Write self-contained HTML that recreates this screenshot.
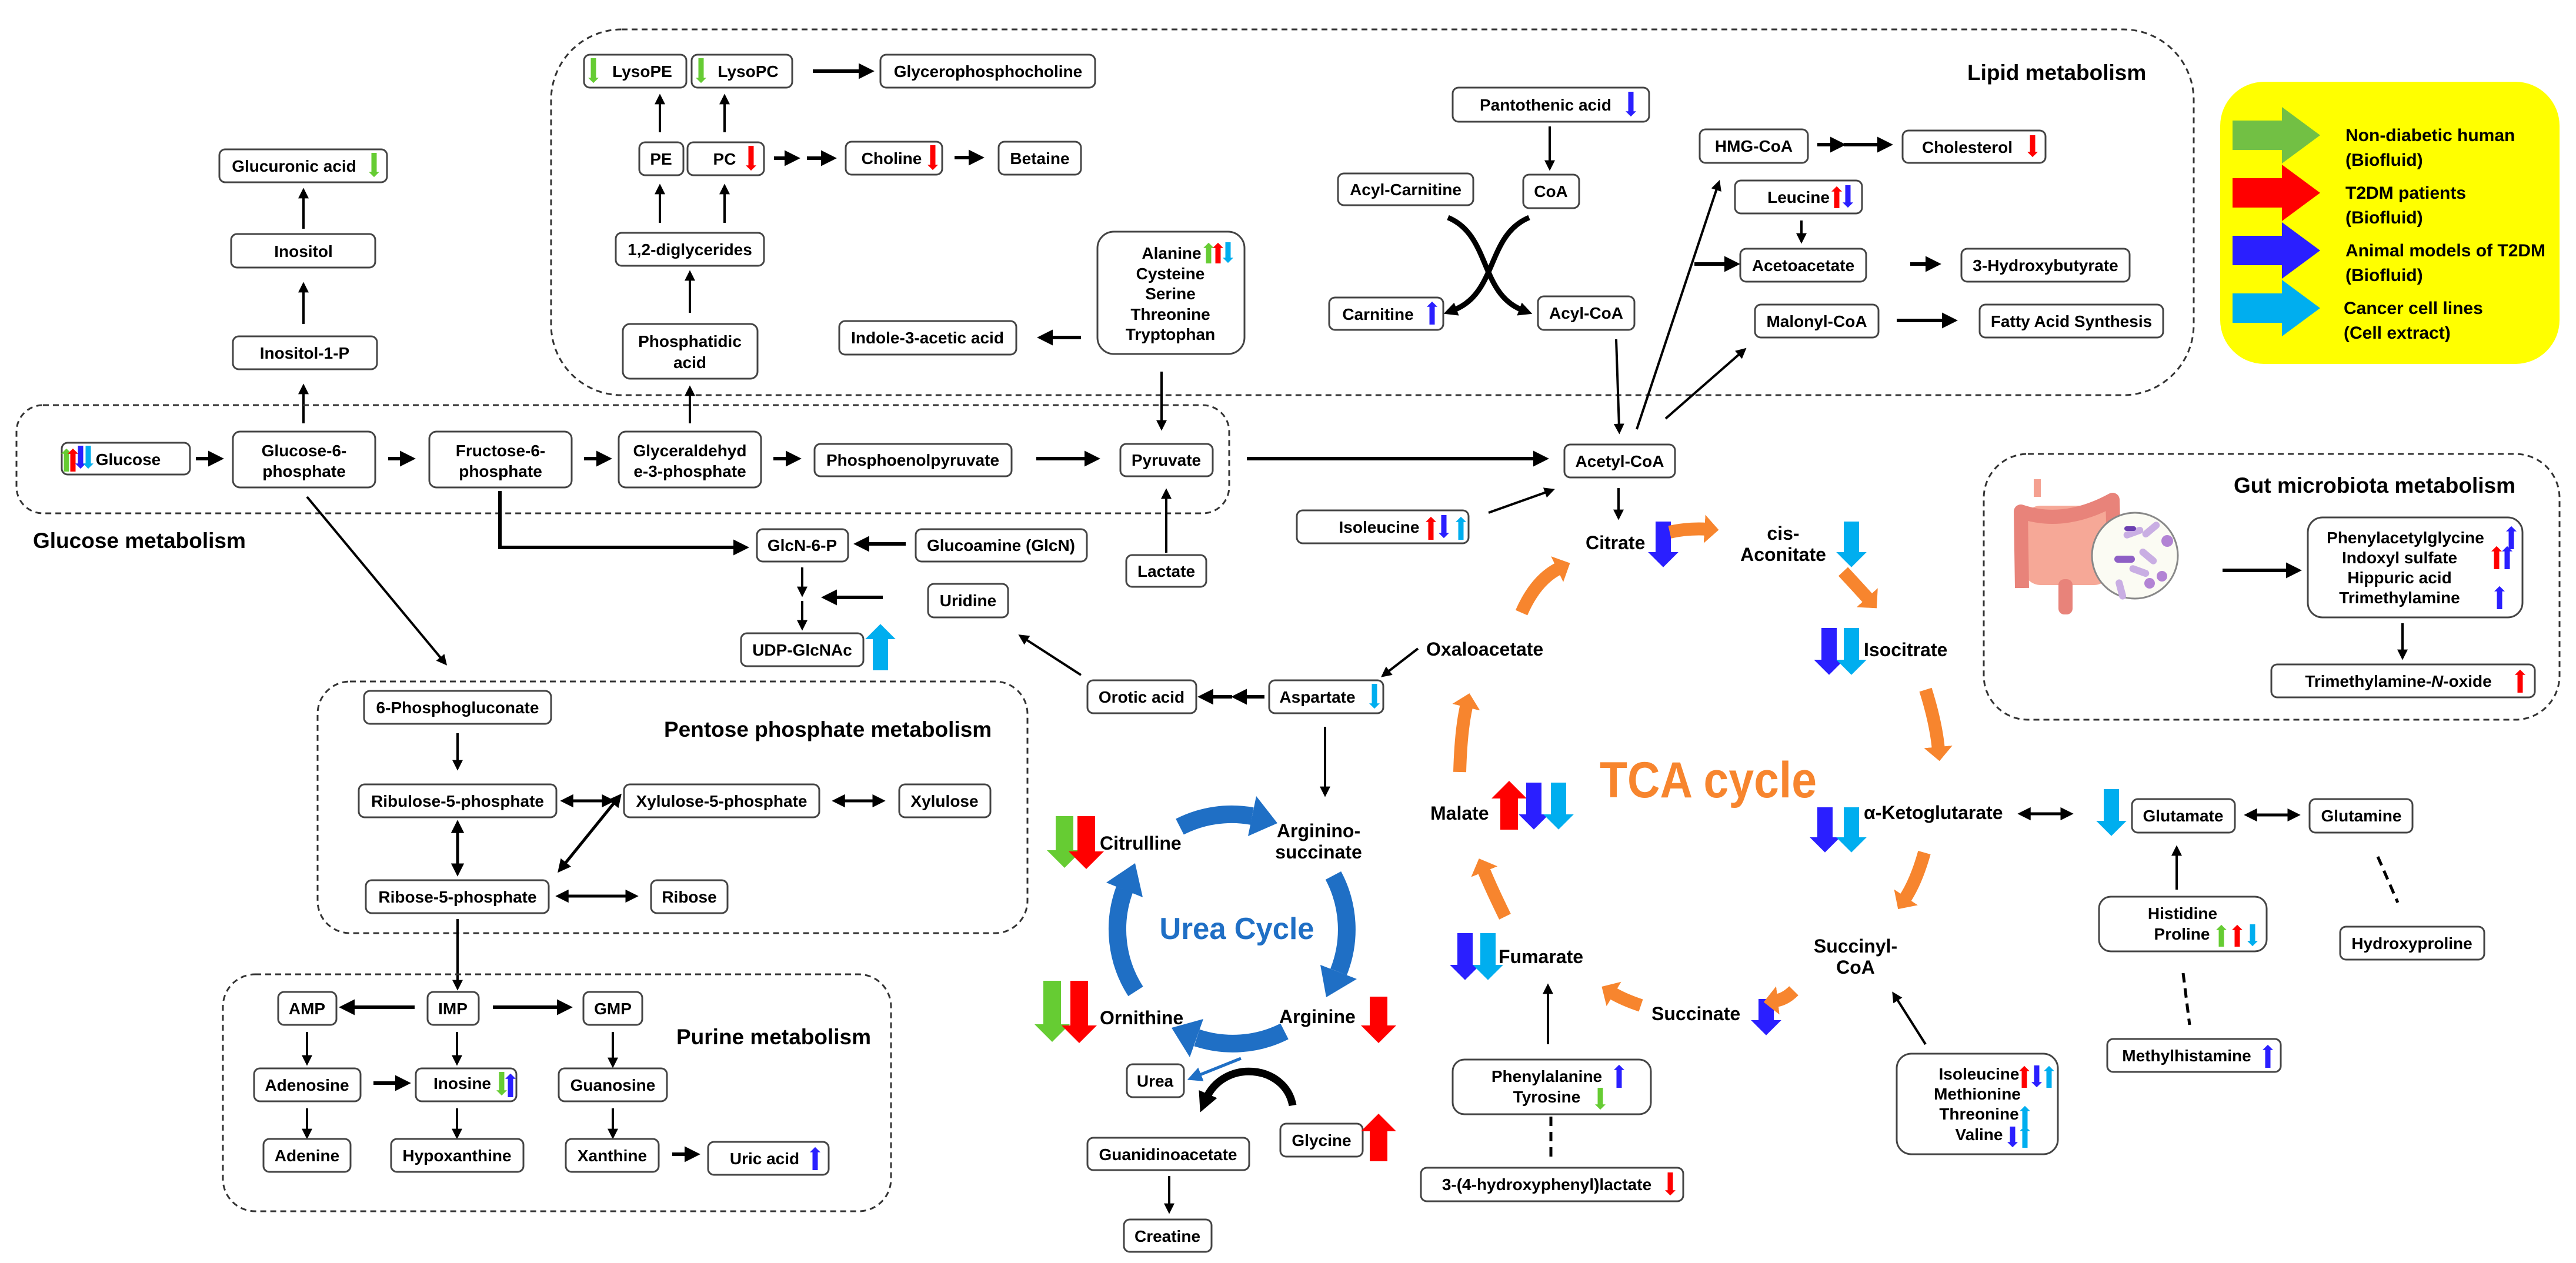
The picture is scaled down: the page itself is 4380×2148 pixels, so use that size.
<!DOCTYPE html>
<html><head><meta charset="utf-8"><style>
html,body{margin:0;padding:0;background:#fff}
svg{display:block}
text{font-family:"Liberation Sans",Arial,sans-serif;font-weight:bold;fill:#000}
.t{font-size:28px;text-anchor:middle}
.L{font-size:37px}
.m{font-size:32px}
.bx{fill:#fff;stroke:#444;stroke-width:3}
.dash{fill:none;stroke:#333;stroke-width:3;stroke-dasharray:10 7}
.k{stroke:#000;stroke-width:4;fill:none;marker-end:url(#mk)}
.k6{stroke:#000;stroke-width:6;fill:none;marker-end:url(#mk)}
.kd{stroke:#000;stroke-width:5;fill:none;marker-end:url(#mk);marker-start:url(#mk)}
.ig{stroke:#66cc33;stroke-width:9;marker-end:url(#mg)}
.ir{stroke:#ff0000;stroke-width:9;marker-end:url(#mr)}
.ib{stroke:#2a1fff;stroke-width:9;marker-end:url(#mb)}
.ic{stroke:#00aeef;stroke-width:9;marker-end:url(#mc)}
.fg{stroke:#66cc33;stroke-width:30;marker-end:url(#mg)}
.fr{stroke:#ff0000;stroke-width:30;marker-end:url(#mr)}
.fb{stroke:#2a1fff;stroke-width:26;marker-end:url(#mb)}
.fc{stroke:#00aeef;stroke-width:26;marker-end:url(#mc)}
.fo{stroke:#f7852e;stroke-width:22;fill:none;marker-end:url(#mo)}
</style></head><body>
<svg xmlns="http://www.w3.org/2000/svg" width="4380" height="2148" viewBox="0 0 4380 2148">
<defs>
<marker id="mk" viewBox="0 0 10 10" refX="3" refY="5" markerWidth="4.5" markerHeight="4.5" orient="auto-start-reverse" markerUnits="strokeWidth"><path d="M0,0L10,5L0,10z" fill="#000"/></marker>
<marker id="mk2" viewBox="0 0 10 10" refX="3" refY="5" markerWidth="2.6" markerHeight="2.6" orient="auto" markerUnits="strokeWidth"><path d="M0,0L10,5L0,10z" fill="#000"/></marker>
<marker id="mg" viewBox="0 0 5 10" refX="1" refY="5" markerWidth="1" markerHeight="2" orient="auto" markerUnits="strokeWidth"><path d="M0,0L5,5L0,10z" fill="#66cc33"/></marker>
<marker id="mr" viewBox="0 0 5 10" refX="1" refY="5" markerWidth="1" markerHeight="2" orient="auto" markerUnits="strokeWidth"><path d="M0,0L5,5L0,10z" fill="#ff0000"/></marker>
<marker id="mb" viewBox="0 0 5 10" refX="1" refY="5" markerWidth="1" markerHeight="2" orient="auto" markerUnits="strokeWidth"><path d="M0,0L5,5L0,10z" fill="#2a1fff"/></marker>
<marker id="mc" viewBox="0 0 5 10" refX="1" refY="5" markerWidth="1" markerHeight="2" orient="auto" markerUnits="strokeWidth"><path d="M0,0L5,5L0,10z" fill="#00aeef"/></marker>
<marker id="mo" viewBox="0 0 5 10" refX="1" refY="5" markerWidth="1.1" markerHeight="2.2" orient="auto" markerUnits="strokeWidth"><path d="M0,0L5,5L0,10z" fill="#f7852e"/></marker>
<marker id="mu" viewBox="0 0 10 10" refX="3" refY="5" markerWidth="5" markerHeight="5" orient="auto" markerUnits="strokeWidth"><path d="M0,0L10,5L0,10z" fill="#1f6fc5"/></marker>
</defs>

<!-- ===== Lipid metabolism ===== -->
<rect class="dash" x="937" y="50" width="2793" height="622" rx="120"/>
<text class="L" x="3345" y="136">Lipid metabolism</text>

<rect class="bx" x="993" y="93" width="174" height="56" rx="10"/><text class="t" x="1092" y="131">LysoPE</text>
<line class="ig" x1="1009" y1="99" x2="1009" y2="134"/>
<rect class="bx" x="1176" y="93" width="171" height="56" rx="10"/><text class="t" x="1272" y="131">LysoPC</text>
<line class="ig" x1="1192" y1="99" x2="1192" y2="134"/>
<line class="k6" x1="1382" y1="121" x2="1468" y2="121"/>
<rect class="bx" x="1497" y="93" width="365" height="56" rx="10"/><text class="t" x="1680" y="131">Glycerophosphocholine</text>

<rect class="bx" x="1087" y="242" width="75" height="56" rx="10"/><text class="t" x="1124" y="280">PE</text>
<rect class="bx" x="1169" y="242" width="130" height="56" rx="10"/><text class="t" x="1232" y="280">PC</text>
<line class="ir" x1="1277" y1="248" x2="1277" y2="283"/>
<line class="k" x1="1122" y1="225" x2="1122" y2="172"/>
<line class="k" x1="1232" y1="225" x2="1232" y2="172"/>
<line class="k6" x1="1316" y1="269" x2="1342" y2="269"/>
<line class="k6" x1="1372" y1="269" x2="1404" y2="269"/>
<rect class="bx" x="1438" y="241" width="164" height="56" rx="10"/><text class="t" x="1516" y="279">Choline</text>
<line class="ir" x1="1586" y1="247" x2="1586" y2="282"/>
<line class="k6" x1="1623" y1="268" x2="1655" y2="268"/>
<rect class="bx" x="1698" y="241" width="140" height="56" rx="10"/><text class="t" x="1768" y="279">Betaine</text>

<rect class="bx" x="1047" y="396" width="252" height="56" rx="10"/><text class="t" x="1173" y="434">1,2-diglycerides</text>
<line class="k" x1="1122" y1="379" x2="1122" y2="325"/>
<line class="k" x1="1232" y1="379" x2="1232" y2="325"/>
<rect class="bx" x="1059" y="551" width="229" height="93" rx="12"/><text class="t" x="1173" y="590">Phosphatidic</text><text class="t" x="1173" y="626">acid</text>
<line class="k" x1="1173" y1="532" x2="1173" y2="472"/>

<rect class="bx" x="1427" y="546" width="301" height="57" rx="10"/><text class="t" x="1577" y="584">Indole-3-acetic acid</text>
<line class="k6" x1="1838" y1="574" x2="1782" y2="574"/>
<rect class="bx" x="1866" y="394" width="250" height="208" rx="28"/>
<text class="t" x="1992" y="440">Alanine</text>
<line class="ig" x1="2055" y1="448" x2="2055" y2="420"/>
<line class="ir" x1="2071" y1="448" x2="2071" y2="420"/>
<line class="ic" x1="2088" y1="412" x2="2088" y2="440"/>
<text class="t" x="1990" y="475">Cysteine</text>
<text class="t" x="1990" y="509">Serine</text>
<text class="t" x="1990" y="544">Threonine</text>
<text class="t" x="1990" y="578">Tryptophan</text>
<line class="k" x1="1975" y1="632" x2="1975" y2="720"/>

<!-- inositol branch -->
<rect class="bx" x="373" y="254" width="285" height="56" rx="10"/><text class="t" x="500" y="292">Glucuronic acid</text>
<line class="ig" x1="636" y1="260" x2="636" y2="294"/>
<line class="k" x1="516" y1="389" x2="516" y2="332"/>
<rect class="bx" x="393" y="398" width="245" height="57" rx="10"/><text class="t" x="516" y="437">Inositol</text>
<line class="k" x1="516" y1="551" x2="516" y2="492"/>
<rect class="bx" x="396" y="572" width="245" height="56" rx="10"/><text class="t" x="518" y="610">Inositol-1-P</text>
<line class="k" x1="516" y1="720" x2="516" y2="665"/>

<!-- ===== Glucose metabolism ===== -->
<rect class="dash" x="28" y="689" width="2062" height="184" rx="45"/>
<text class="L" x="56" y="932">Glucose metabolism</text>
<rect class="bx" x="105" y="753" width="218" height="54" rx="10"/><text class="t" x="218" y="791">Glucose</text>
<line class="ig" x1="113" y1="802" x2="113" y2="770"/>
<line class="ir" x1="124" y1="802" x2="124" y2="770"/>
<line class="ib" x1="137" y1="758" x2="137" y2="790"/>
<line class="ic" x1="150" y1="758" x2="150" y2="790"/>
<rect class="bx" x="396" y="734" width="242" height="95" rx="12"/><text class="t" x="517" y="776">Glucose-6-</text><text class="t" x="517" y="811">phosphate</text>
<rect class="bx" x="730" y="734" width="242" height="95" rx="12"/><text class="t" x="851" y="776">Fructose-6-</text><text class="t" x="851" y="811">phosphate</text>
<rect class="bx" x="1052" y="734" width="242" height="95" rx="12"/><text class="t" x="1173" y="776">Glyceraldehyd</text><text class="t" x="1173" y="811">e-3-phosphate</text>
<rect class="bx" x="1385" y="755" width="335" height="55" rx="10"/><text class="t" x="1552" y="792">Phosphoenolpyruvate</text>
<rect class="bx" x="1905" y="755" width="157" height="55" rx="10"/><text class="t" x="1983" y="792">Pyruvate</text>
<line class="k6" x1="333" y1="780" x2="362" y2="780"/>
<line class="k6" x1="660" y1="780" x2="688" y2="780"/>
<line class="k6" x1="993" y1="780" x2="1022" y2="780"/>
<line class="k6" x1="1315" y1="780" x2="1344" y2="780"/>
<line class="k6" x1="1762" y1="780" x2="1852" y2="780"/>
<line class="k6" x1="2120" y1="780" x2="2615" y2="780"/>
<line class="k" x1="1173" y1="720" x2="1173" y2="668"/>
<line class="k" x1="1983" y1="940" x2="1983" y2="843"/>
<rect class="bx" x="1915" y="944" width="136" height="54" rx="10"/><text class="t" x="1983" y="981">Lactate</text>

<rect class="bx" x="1287" y="900" width="155" height="55" rx="10"/><text class="t" x="1364" y="937">GlcN-6-P</text>
<rect class="bx" x="1557" y="900" width="291" height="55" rx="10"/><text class="t" x="1702" y="937">Glucoamine (GlcN)</text>
<line class="k6" x1="1540" y1="925" x2="1470" y2="925"/>
<polyline class="k6" points="850,835 850,931 1255,931"/>
<line class="k" x1="1364" y1="965" x2="1364" y2="1003"/>
<line class="k" x1="1364" y1="1022" x2="1364" y2="1060"/>
<line class="k6" x1="1501" y1="1016" x2="1415" y2="1016"/>
<rect class="bx" x="1578" y="993" width="136" height="57" rx="10"/><text class="t" x="1646" y="1031">Uridine</text>
<rect class="bx" x="1260" y="1077" width="208" height="56" rx="10"/><text class="t" x="1364" y="1115">UDP-GlcNAc</text>
<line class="fc" x1="1497" y1="1140" x2="1497" y2="1082"/>
<line class="k" x1="1838" y1="1148" x2="1742" y2="1086"/>
<line class="k" x1="522" y1="845" x2="752" y2="1122"/>

<!-- ===== Pentose ===== -->
<rect class="dash" x="540" y="1159" width="1207" height="428" rx="55"/>
<text class="L" x="1129" y="1253">Pentose phosphate metabolism</text>
<rect class="bx" x="619" y="1175" width="318" height="56" rx="10"/><text class="t" x="778" y="1213">6-Phosphogluconate</text>
<line class="k" x1="778" y1="1247" x2="778" y2="1298"/>
<rect class="bx" x="610" y="1334" width="336" height="56" rx="10"/><text class="t" x="778" y="1372">Ribulose-5-phosphate</text>
<line class="kd" x1="968" y1="1362" x2="1030" y2="1362"/>
<rect class="bx" x="1061" y="1334" width="332" height="56" rx="10"/><text class="t" x="1227" y="1372">Xylulose-5-phosphate</text>
<line class="kd" x1="1430" y1="1362" x2="1490" y2="1362"/>
<rect class="bx" x="1529" y="1334" width="155" height="56" rx="10"/><text class="t" x="1606" y="1372">Xylulose</text>
<line class="kd" x1="778" y1="1410" x2="778" y2="1475"/>
<line class="kd" x1="958" y1="1472" x2="1047" y2="1362"/>
<rect class="bx" x="622" y="1497" width="311" height="56" rx="10"/><text class="t" x="778" y="1535">Ribose-5-phosphate</text>
<line class="kd" x1="960" y1="1524" x2="1070" y2="1524"/>
<rect class="bx" x="1107" y="1497" width="130" height="56" rx="10"/><text class="t" x="1172" y="1535">Ribose</text>
<line class="k" x1="778" y1="1563" x2="778" y2="1672"/>

<!-- ===== Purine ===== -->
<rect class="dash" x="379" y="1657" width="1136" height="403" rx="55"/>
<text class="L" x="1150" y="1776">Purine metabolism</text>
<rect class="bx" x="473" y="1687" width="99" height="56" rx="10"/><text class="t" x="522" y="1725">AMP</text>
<rect class="bx" x="727" y="1687" width="87" height="56" rx="10"/><text class="t" x="770" y="1725">IMP</text>
<rect class="bx" x="992" y="1687" width="100" height="56" rx="10"/><text class="t" x="1042" y="1725">GMP</text>
<line class="k6" x1="705" y1="1713" x2="595" y2="1713"/>
<line class="k6" x1="838" y1="1713" x2="955" y2="1713"/>
<line class="k" x1="522" y1="1755" x2="522" y2="1800"/>
<line class="k" x1="777" y1="1755" x2="777" y2="1800"/>
<line class="k" x1="1042" y1="1755" x2="1042" y2="1804"/>
<rect class="bx" x="432" y="1817" width="181" height="56" rx="10"/><text class="t" x="522" y="1855">Adenosine</text>
<rect class="bx" x="707" y="1817" width="171" height="56" rx="10"/><text class="t" x="786" y="1852">Inosine</text>
<line class="ig" x1="853" y1="1823" x2="853" y2="1856"/>
<line class="ib" x1="868" y1="1866" x2="868" y2="1833"/>
<rect class="bx" x="950" y="1817" width="184" height="56" rx="10"/><text class="t" x="1042" y="1855">Guanosine</text>
<line class="k6" x1="635" y1="1842" x2="680" y2="1842"/>
<line class="k" x1="522" y1="1885" x2="522" y2="1925"/>
<line class="k" x1="777" y1="1885" x2="777" y2="1925"/>
<line class="k" x1="1042" y1="1885" x2="1042" y2="1925"/>
<rect class="bx" x="448" y="1937" width="148" height="56" rx="10"/><text class="t" x="522" y="1975">Adenine</text>
<rect class="bx" x="665" y="1937" width="225" height="56" rx="10"/><text class="t" x="777" y="1975">Hypoxanthine</text>
<rect class="bx" x="962" y="1937" width="158" height="56" rx="10"/><text class="t" x="1041" y="1975">Xanthine</text>
<line class="k6" x1="1143" y1="1963" x2="1172" y2="1963"/>
<rect class="bx" x="1204" y="1942" width="205" height="56" rx="10"/><text class="t" x="1300" y="1980">Uric acid</text>
<line class="ib" x1="1386" y1="1990" x2="1386" y2="1958"/>

<!-- ===== Urea cycle ===== -->
<g fill="none" stroke="#1f6fc5" stroke-width="30">
<path d="M2006,1406 A195,195 0 0 1 2129,1388"/>
<path d="M2267,1489 A195,195 0 0 1 2276,1653"/>
<path d="M2184,1754 A195,195 0 0 1 2035,1765"/>
<path d="M1931,1686 A195,195 0 0 1 1912,1513"/>
</g>
<g fill="#1f6fc5">
<polygon points="2122,1422 2136,1354 2172,1400"/>
<polygon points="2245,1641 2307,1665 2255,1696"/>
<polygon points="2046,1733 2023,1798 1992,1748"/>
<polygon points="1943,1526 1881,1501 1930,1468"/>
</g>
<text x="2103" y="1597" font-size="52" text-anchor="middle" style="fill:#1f6fc5" textLength="263" lengthAdjust="spacingAndGlyphs">Urea Cycle</text>
<text class="m" x="1870" y="1445">Citrulline</text>
<line class="fg" x1="1810" y1="1388" x2="1810" y2="1452"/>
<line class="fr" x1="1847" y1="1388" x2="1847" y2="1454"/>
<text class="m" x="1870" y="1742">Ornithine</text>
<line class="fg" x1="1789" y1="1668" x2="1789" y2="1748"/>
<line class="fr" x1="1835" y1="1668" x2="1835" y2="1750"/>
<text class="m" x="2242" y="1424" text-anchor="middle">Arginino-</text>
<text class="m" x="2242" y="1460" text-anchor="middle">succinate</text>
<text class="m" x="2175" y="1740">Arginine</text>
<line class="fr" x1="2344" y1="1695" x2="2344" y2="1750"/>
<line class="k" x1="2253" y1="1236" x2="2253" y2="1343"/>
<rect class="bx" x="1916" y="1810" width="97" height="56" rx="10"/><text class="t" x="1964" y="1848">Urea</text>
<line x1="2110" y1="1800" x2="2035" y2="1830" stroke="#1f6fc5" stroke-width="5" marker-end="url(#mu)"/>
<path d="M2198,1880 C2185,1810 2080,1800 2050,1870" fill="none" stroke="#000" stroke-width="13" marker-end="url(#mk2)"/>
<rect class="bx" x="2177" y="1911" width="140" height="56" rx="10"/><text class="t" x="2247" y="1949">Glycine</text>
<line class="fr" x1="2344" y1="1975" x2="2344" y2="1918"/>
<rect class="bx" x="1849" y="1935" width="275" height="55" rx="10"/><text class="t" x="1986" y="1973">Guanidinoacetate</text>
<line class="k" x1="1988" y1="2000" x2="1988" y2="2052"/>
<rect class="bx" x="1911" y="2074" width="149" height="55" rx="10"/><text class="t" x="1985" y="2112">Creatine</text>

<rect class="bx" x="1849" y="1157" width="185" height="56" rx="10"/><text class="t" x="1941" y="1195">Orotic acid</text>
<rect class="bx" x="2158" y="1157" width="194" height="56" rx="10"/><text class="t" x="2240" y="1195">Aspartate</text>
<line class="ic" x1="2337" y1="1163" x2="2337" y2="1198"/>
<line class="k6" x1="2150" y1="1185" x2="2112" y2="1185"/>
<line class="k6" x1="2095" y1="1185" x2="2055" y2="1185"/>
<line class="k" x1="2411" y1="1103" x2="2358" y2="1144"/>
<text class="m" x="2425" y="1115">Oxaloacetate</text>

<!-- ===== TCA ===== -->
<text x="2720" y="1356" font-size="86" style="fill:#f7852e" textLength="369" lengthAdjust="spacingAndGlyphs">TCA cycle</text>
<text class="m" x="2696" y="934">Citrate</text>
<line class="fb" x1="2828" y1="887" x2="2828" y2="944"/>
<text class="m" x="3032" y="918" text-anchor="middle">cis-</text>
<text class="m" x="3032" y="954" text-anchor="middle">Aconitate</text>
<line class="fc" x1="3148" y1="887" x2="3148" y2="944"/>
<text class="m" x="3169" y="1116">Isocitrate</text>
<line class="fb" x1="3110" y1="1068" x2="3110" y2="1127"/>
<line class="fc" x1="3148" y1="1068" x2="3148" y2="1127"/>
<text class="m" x="3169" y="1393">α-Ketoglutarate</text>
<line class="fb" x1="3103" y1="1373" x2="3103" y2="1429"/>
<line class="fc" x1="3148" y1="1373" x2="3148" y2="1429"/>
<line class="kd" x1="3446" y1="1384" x2="3510" y2="1384"/>
<text class="m" x="2432" y="1394">Malate</text>
<line class="fr" x1="2566" y1="1411" x2="2566" y2="1352"/>
<line class="fb" x1="2608" y1="1331" x2="2608" y2="1390"/>
<line class="fc" x1="2650" y1="1331" x2="2650" y2="1390"/>
<text class="m" x="2548" y="1638">Fumarate</text>
<line class="fb" x1="2491" y1="1587" x2="2491" y2="1646"/>
<line class="fc" x1="2530" y1="1587" x2="2530" y2="1646"/>
<text class="m" x="2808" y="1735">Succinate</text>
<line class="fb" x1="3003" y1="1699" x2="3003" y2="1740"/>
<text class="m" x="3155" y="1620" text-anchor="middle">Succinyl-</text>
<text class="m" x="3155" y="1656" text-anchor="middle">CoA</text>

<path class="fo" d="M2587,1042 Q2612,985 2652,966"/>
<path class="fo" d="M2839,905 Q2870,898 2903,900"/>
<path class="fo" d="M3134,972 Q3160,1000 3178,1020"/>
<path class="fo" d="M3274,1173 Q3292,1230 3296,1275"/>
<path class="fo" d="M3272,1450 Q3258,1500 3238,1530"/>
<path class="fo" d="M3050,1685 Q3035,1700 3018,1702"/>
<path class="fo" d="M2790,1710 Q2760,1700 2740,1688"/>
<path class="fo" d="M2559,1559 Q2535,1510 2522,1478"/>
<path class="fo" d="M2482,1313 Q2484,1240 2494,1198"/>

<rect class="bx" x="2470" y="1802" width="337" height="93" rx="20"/>
<text class="t" x="2630" y="1840">Phenylalanine</text>
<line class="ib" x1="2753" y1="1850" x2="2753" y2="1818"/>
<text class="t" x="2630" y="1875">Tyrosine</text>
<line class="ig" x1="2721" y1="1850" x2="2721" y2="1880"/>
<line class="k" x1="2632" y1="1776" x2="2632" y2="1685"/>
<line x1="2637" y1="1899" x2="2637" y2="1975" stroke="#000" stroke-width="5" stroke-dasharray="16 10"/>
<rect class="bx" x="2416" y="1986" width="446" height="57" rx="10"/><text class="t" x="2630" y="2024">3-(4-hydroxyphenyl)lactate</text>
<line class="ir" x1="2840" y1="1994" x2="2840" y2="2026"/>

<rect class="bx" x="3225" y="1792" width="274" height="171" rx="25"/>
<text class="t" x="3365" y="1836">Isoleucine</text>
<line class="ir" x1="3442" y1="1850" x2="3442" y2="1820"/>
<line class="ib" x1="3463" y1="1812" x2="3463" y2="1842"/>
<line class="ic" x1="3484" y1="1850" x2="3484" y2="1820"/>
<text class="t" x="3362" y="1870">Methionine</text>
<text class="t" x="3365" y="1904">Threonine</text>
<line class="ic" x1="3443" y1="1918" x2="3443" y2="1888"/>
<text class="t" x="3365" y="1939">Valine</text>
<line class="ib" x1="3422" y1="1916" x2="3422" y2="1944"/>
<line class="ic" x1="3443" y1="1952" x2="3443" y2="1922"/>
<line class="k" x1="3274" y1="1776" x2="3224" y2="1697"/>

<rect class="bx" x="3625" y="1359" width="175" height="57" rx="10"/><text class="t" x="3712" y="1397">Glutamate</text>
<line class="fc" x1="3590" y1="1342" x2="3590" y2="1401"/>
<line class="kd" x1="3831" y1="1386" x2="3896" y2="1386"/>
<rect class="bx" x="3927" y="1359" width="175" height="57" rx="10"/><text class="t" x="4015" y="1397">Glutamine</text>
<rect class="bx" x="3569" y="1525" width="285" height="93" rx="20"/>
<text class="t" x="3711" y="1563">Histidine</text>
<text class="t" x="3710" y="1598">Proline</text>
<line class="ig" x1="3777" y1="1610" x2="3777" y2="1580"/>
<line class="ir" x1="3804" y1="1610" x2="3804" y2="1580"/>
<line class="ic" x1="3830" y1="1572" x2="3830" y2="1602"/>
<line class="k" x1="3701" y1="1513" x2="3701" y2="1450"/>
<line x1="4043" y1="1457" x2="4077" y2="1535" stroke="#000" stroke-width="5" stroke-dasharray="16 10"/>
<rect class="bx" x="3979" y="1576" width="245" height="56" rx="10"/><text class="t" x="4101" y="1614">Hydroxyproline</text>
<line x1="3712" y1="1655" x2="3723" y2="1743" stroke="#000" stroke-width="5" stroke-dasharray="16 10"/>
<rect class="bx" x="3583" y="1767" width="295" height="56" rx="10"/><text class="t" x="3718" y="1805">Methylhistamine</text>
<line class="ib" x1="3856" y1="1816" x2="3856" y2="1784"/>

<!-- ===== right lipid ===== -->
<rect class="bx" x="2470" y="149" width="334" height="58" rx="10"/><text class="t" x="2628" y="188">Pantothenic acid</text>
<line class="ib" x1="2773" y1="156" x2="2773" y2="191"/>
<line class="k" x1="2635" y1="215" x2="2635" y2="278"/>
<rect class="bx" x="2275" y="295" width="230" height="54" rx="10"/><text class="t" x="2390" y="332">Acyl-Carnitine</text>
<rect class="bx" x="2590" y="297" width="95" height="57" rx="10"/><text class="t" x="2637" y="335">CoA</text>
<path d="M2462,370 C2535,400 2515,500 2590,528" fill="none" stroke="#000" stroke-width="9" marker-end="url(#mk2)"/>
<path d="M2600,370 C2527,400 2547,500 2470,528" fill="none" stroke="#000" stroke-width="9" marker-end="url(#mk2)"/>
<rect class="bx" x="2260" y="506" width="194" height="55" rx="10"/><text class="t" x="2343" y="544">Carnitine</text>
<line class="ib" x1="2435" y1="552" x2="2435" y2="520"/>
<rect class="bx" x="2615" y="504" width="164" height="57" rx="10"/><text class="t" x="2697" y="542">Acyl-CoA</text>

<rect class="bx" x="2890" y="220" width="184" height="57" rx="10"/><text class="t" x="2982" y="258">HMG-CoA</text>
<line class="k6" x1="3090" y1="246" x2="3120" y2="246"/>
<line class="k6" x1="3135" y1="246" x2="3200" y2="246"/>
<rect class="bx" x="3235" y="222" width="243" height="55" rx="10"/><text class="t" x="3345" y="260">Cholesterol</text>
<line class="ir" x1="3456" y1="230" x2="3456" y2="260"/>
<rect class="bx" x="2950" y="307" width="216" height="56" rx="10"/><text class="t" x="3058" y="345">Leucine</text>
<line class="ir" x1="3123" y1="354" x2="3123" y2="324"/>
<line class="ib" x1="3142" y1="315" x2="3142" y2="346"/>
<line class="k" x1="3063" y1="375" x2="3063" y2="402"/>
<rect class="bx" x="2959" y="423" width="214" height="56" rx="10"/><text class="t" x="3066" y="461">Acetoacetate</text>
<line class="k6" x1="3248" y1="449" x2="3282" y2="449"/>
<rect class="bx" x="3335" y="423" width="286" height="56" rx="10"/><text class="t" x="3478" y="461">3-Hydroxybutyrate</text>
<rect class="bx" x="2984" y="518" width="210" height="56" rx="10"/><text class="t" x="3089" y="556">Malonyl-CoA</text>
<line class="k6" x1="3225" y1="545" x2="3310" y2="545"/>
<rect class="bx" x="3366" y="518" width="312" height="56" rx="10"/><text class="t" x="3522" y="556">Fatty Acid Synthesis</text>

<rect class="bx" x="2660" y="756" width="188" height="56" rx="10"/><text class="t" x="2754" y="794">Acetyl-CoA</text>
<line class="k" x1="2748" y1="577" x2="2753" y2="726"/>
<line class="k" x1="2783" y1="730" x2="2920" y2="318"/>
<line class="k6" x1="2881" y1="449" x2="2940" y2="449"/>
<line class="k" x1="2832" y1="712" x2="2960" y2="600"/>
<line class="k" x1="2752" y1="830" x2="2752" y2="872"/>
<rect class="bx" x="2205" y="868" width="292" height="56" rx="10"/><text class="t" x="2345" y="906">Isoleucine</text>
<line class="ir" x1="2433" y1="918" x2="2433" y2="886"/>
<line class="ib" x1="2455" y1="876" x2="2455" y2="908"/>
<line class="ic" x1="2484" y1="918" x2="2484" y2="886"/>
<line class="k" x1="2531" y1="872" x2="2632" y2="836"/>

<!-- ===== Legend ===== -->
<rect x="3775" y="139" width="577" height="480" rx="75" fill="#ffff00"/>
<polygon points="3796,205 3880,205 3880,182 3945,230 3880,278 3880,255 3796,255" fill="#72c044"/>
<polygon points="3796,303 3880,303 3880,280 3945,328 3880,376 3880,353 3796,353" fill="#ff0000"/>
<polygon points="3796,401 3880,401 3880,378 3945,426 3880,474 3880,451 3796,451" fill="#2a1fff"/>
<polygon points="3796,499 3880,499 3880,476 3945,524 3880,572 3880,549 3796,549" fill="#00aeef"/>
<text x="3988" y="240" style="font-size:30px">Non-diabetic human</text><text x="3988" y="282" style="font-size:30px">(Biofluid)</text>
<text x="3988" y="338" style="font-size:30px">T2DM patients</text><text x="3988" y="380" style="font-size:30px">(Biofluid)</text>
<text x="3988" y="436" style="font-size:30px">Animal models of T2DM</text><text x="3988" y="478" style="font-size:30px">(Biofluid)</text>
<text x="3985" y="534" style="font-size:30px">Cancer cell lines</text><text x="3985" y="576" style="font-size:30px">(Cell extract)</text>

<!-- ===== Gut ===== -->
<rect class="dash" x="3373" y="772" width="979" height="452" rx="75"/>
<text class="L" x="3798" y="838">Gut microbiota metabolism</text>
<g>
<rect x="3440" y="860" width="150" height="135" rx="30" fill="#f6a897"/>
<path d="M3438,1000 L3436,870 Q3510,895 3592,850 L3596,1000" fill="none" stroke="#e8837a" stroke-width="24" stroke-linejoin="round"/>
<rect x="3500" y="985" width="24" height="60" rx="10" fill="#e8837a"/>
<rect x="3458" y="815" width="12" height="30" fill="#f4a090"/>
<circle cx="3630" cy="945" r="73" fill="#fbfbf3" stroke="#888" stroke-width="3"/>
<g fill="#c9aee3">
<rect x="3610" y="900" width="35" height="12" rx="6" transform="rotate(-20 3627 906)"/>
<rect x="3640" y="895" width="35" height="12" rx="6" transform="rotate(-40 3657 901)"/>
<rect x="3595" y="945" width="35" height="12" rx="6" fill="#8e5fc5"/>
<rect x="3620" y="965" width="35" height="12" rx="6" transform="rotate(20 3637 971)"/>
<rect x="3600" y="985" width="12" height="35" rx="6" transform="rotate(-15 3606 1002)"/>
<rect x="3635" y="940" width="35" height="12" rx="6" transform="rotate(40 3652 946)"/>
<circle cx="3685" cy="920" r="10" fill="#b283d4"/>
<circle cx="3676" cy="980" r="9" fill="#b283d4"/>
<circle cx="3655" cy="992" r="9" fill="#b283d4"/>
<rect x="3612" y="895" width="20" height="8" rx="4" fill="#6b3fb0"/>
</g>
</g>
<line class="k6" x1="3779" y1="970" x2="3895" y2="970"/>
<rect class="bx" x="3924" y="880" width="365" height="170" rx="25"/>
<text class="t" x="4090" y="924">Phenylacetylglycine</text>
<line class="ib" x1="4270" y1="934" x2="4270" y2="902"/>
<text class="t" x="4080" y="958">Indoxyl sulfate</text>
<line class="ir" x1="4245" y1="968" x2="4245" y2="936"/>
<line class="ib" x1="4263" y1="968" x2="4263" y2="936"/>
<text class="t" x="4080" y="992">Hippuric acid</text>
<text class="t" x="4080" y="1026">Trimethylamine</text>
<line class="ib" x1="4250" y1="1036" x2="4250" y2="1004"/>
<line class="k" x1="4085" y1="1060" x2="4085" y2="1110"/>
<rect class="bx" x="3862" y="1130" width="448" height="56" rx="10"/>
<text class="t" x="4078" y="1168">Trimethylamine-<tspan font-style="italic">N</tspan>-oxide</text>
<line class="ir" x1="4285" y1="1178" x2="4285" y2="1146"/>
</svg>
</body></html>
